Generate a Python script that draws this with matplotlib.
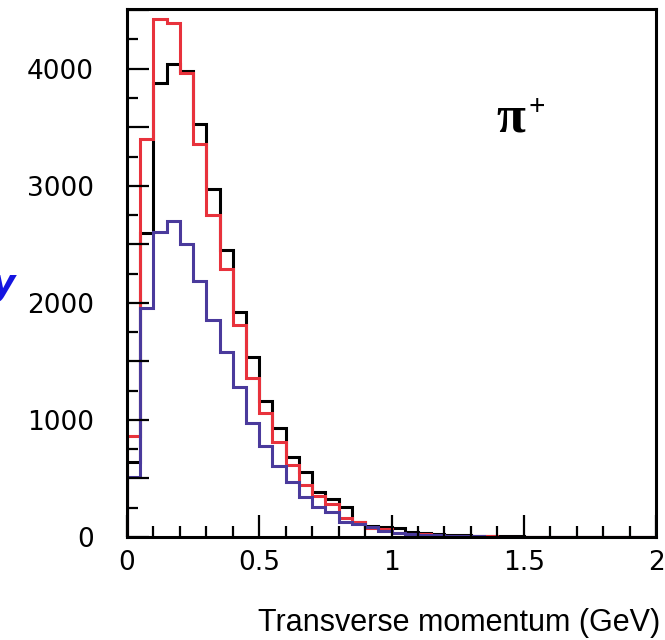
import numpy as np
import matplotlib
matplotlib.use("Agg")
import matplotlib.pyplot as plt
from matplotlib.ticker import MultipleLocator, FuncFormatter

# bin edges (GeV), 40 bins of 0.05
edges = np.round(np.arange(0, 2.0001, 0.05), 2)

# counts per bin
black = [640, 2600, 3880, 4040, 3980, 3530, 2970, 2450, 1920, 1535,
         1160, 928, 681, 553, 387, 323, 255, 128, 94, 88,
         77, 40, 34, 26, 18, 14, 10, 8, 6, 5,
         3, 2, 0, 0, 0, 0, 0, 0, 0, 0]
red = [860, 3400, 4425, 4390, 3960, 3360, 2750, 2290, 1810, 1362,
       1055, 815, 615, 447, 352, 281, 166, 128, 77, 68,
       34, 28, 22, 15, 12, 9, 7, 5, 4, 3,
       2, 1, 0, 0, 0, 0, 0, 0, 0, 0]
blue = [510, 1960, 2604, 2698, 2502, 2187, 1855, 1583, 1277, 975,
        780, 608, 468, 340, 260, 213, 128, 115, 85, 51,
        34, 25, 20, 14, 10, 8, 6, 4, 3, 2,
        2, 1, 0, 0, 0, 0, 0, 0, 0, 0]

fig = plt.figure(figsize=(6.65, 6.4), dpi=100)
ax = fig.add_axes([127/665, 103/640, 529/665, 528/640])

ax.stairs(black, edges, color="black", lw=2.2)
ax.stairs(red, edges, color="#e8323c", lw=2.2)
ax.stairs(blue, edges, color="#4a3a9c", lw=2.2)

ax.set_xlim(0, 2)
ax.set_ylim(0, 4510)

for s in ax.spines.values():
    s.set_linewidth(2.2)

ax.xaxis.set_major_locator(MultipleLocator(0.5))
ax.xaxis.set_minor_locator(MultipleLocator(0.1))
ax.yaxis.set_major_locator(MultipleLocator(500))
ax.yaxis.set_minor_locator(MultipleLocator(250))
ax.xaxis.set_major_formatter(FuncFormatter(lambda v, p: "%g" % v))
ax.yaxis.set_major_formatter(FuncFormatter(lambda v, p: "%d" % v if v % 1000 == 0 else ""))

ax.tick_params(which="major", direction="in", length=16, width=1.6, labelsize=19)
ax.tick_params(which="minor", direction="in", length=8, width=1.6)
ax.tick_params(axis="y", pad=24)
ax.tick_params(axis="x", pad=9)

# particle label
fig.text(496/665, 1 - 132/640, "π", ha="left", va="baseline", fontsize=38,
         family="Liberation Serif", fontweight="bold")
fig.text(528/665, 1 - 115/640, "+", ha="left", va="baseline", fontsize=21,
         family="Liberation Serif", fontweight="bold")

fig.text(660/665, 1 - 623/640, "Transverse momentum (GeV)", ha="right", va="center",
         fontsize=22, family="Liberation Sans")
# axis title only partly visible at the left edge
fig.text(16/665, 1 - 285/640, "y", ha="right", va="center", fontsize=26,
         color="#1515e0", style="italic", fontweight="bold")

fig.savefig("out.png", dpi=100)
